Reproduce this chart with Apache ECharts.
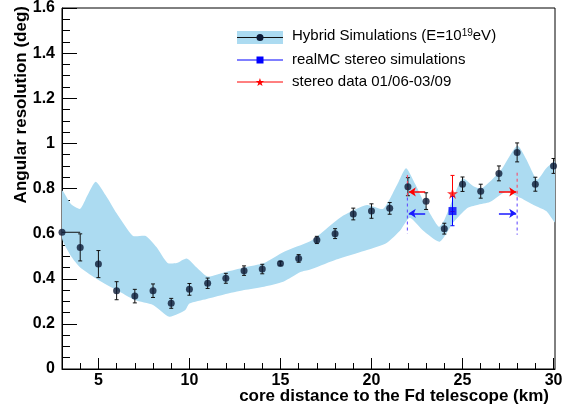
<!DOCTYPE html>
<html>
<head>
<meta charset="utf-8">
<script src="https://cdn.jsdelivr.net/npm/echarts@6/dist/echarts.min.js"></script>
<style>
  html, body { margin: 0; padding: 0; background: #fff; }
  #chart { width: 575px; height: 407px; }
</style>
</head>
<body>
<div id="chart"></div>
<script>
// hybrid simulation points (core distance km, resolution deg, error)
var hybX = [3, 4, 5, 6, 7, 8, 9, 10, 11, 12, 13, 14, 15, 16, 17, 18, 19, 20, 21, 22, 23, 24, 25, 26, 27, 28, 29, 30];
var hybY = [0.606, 0.539, 0.465, 0.347, 0.323, 0.347, 0.291, 0.353, 0.38, 0.402, 0.436, 0.443, 0.468, 0.49,
  0.572, 0.60, 0.687, 0.70, 0.712, 0.808, 0.744, 0.622, 0.819, 0.788, 0.867, 0.96, 0.819, 0.90];
var hybErr = [0, 0.06, 0.06, 0.04, 0.03, 0.03, 0.022, 0.026, 0.023, 0.022, 0.021, 0.021, 0.008, 0.017,
  0.016, 0.022, 0.026, 0.032, 0.026, 0.04, 0.037, 0.024, 0.032, 0.031, 0.033, 0.042, 0.031, 0.033];
var firstXErr = [3, 4];

// spread band of the hybrid simulations
var bandUpX = [3.0, 3.5, 4.0, 4.4, 4.85, 5.4, 6.0, 6.9, 7.6, 8.2, 8.8, 9.3, 9.85, 10.4, 11.0, 12.0, 13.0, 14.1,
  15.2, 16.6, 17.2, 18.45, 19.75, 20.65, 21.4, 21.9, 22.4, 23.0, 23.7, 24.0, 24.5, 25.0, 25.6, 26.05, 27.1,
  28.0, 28.5, 29.1, 29.6, 30.1];
var bandUpY = [0.79, 0.73, 0.71, 0.77, 0.83, 0.77, 0.69, 0.59, 0.59, 0.54, 0.47, 0.47, 0.49, 0.45, 0.41, 0.43,
  0.45, 0.47, 0.52, 0.565, 0.60, 0.68, 0.727, 0.71, 0.815, 0.89, 0.82, 0.72, 0.63, 0.66, 0.76, 0.845, 0.81,
  0.80, 0.88, 0.99, 0.93, 0.84, 0.89, 0.92];
var bandLoX = [3.0, 3.5, 4.0, 5.0, 6.0, 7.0, 8.0, 8.9, 9.76, 10.0, 10.95, 11.9, 13.0, 14.1, 15.15, 16.1, 16.6,
  17.9, 19.75, 20.85, 21.6, 22.1, 22.8, 23.75, 24.5, 25.25, 25.8, 26.5, 27.4, 28.2, 28.9, 29.6, 30.1];
var bandLoY = [0.58, 0.50, 0.45, 0.395, 0.35, 0.306, 0.284, 0.232, 0.26, 0.29, 0.31, 0.33, 0.35, 0.365, 0.387,
  0.43, 0.44, 0.48, 0.527, 0.56, 0.616, 0.67, 0.616, 0.564, 0.65, 0.713, 0.727, 0.74, 0.786, 0.758, 0.727,
  0.70, 0.65];

// realMC stereo and stereo data
var mcPoint = [24.45, 0.70, 0.065];
var dataPoint = [24.45, 0.778, 0.08];

// arrows and dashed markers
var redArrows = [[[22.95, 0.785], [22.05, 0.785]], [[27.0, 0.785], [27.95, 0.785]]];
var blueArrows = [[[22.95, 0.69], [22.05, 0.69]], [[27.0, 0.69], [27.95, 0.69]]];
// x, top, bottom
var redDash = [[21.97, 0.86, 0.76], [28.0, 0.87, 0.76]];
var blueDash = [[21.97, 0.76, 0.60], [28.0, 0.76, 0.595]];

var xLabels = [5, 10, 15, 20, 25, 30];
var xMinor = [4, 6, 7, 8, 9, 11, 12, 13, 14, 16, 17, 18, 19, 21, 22, 23, 24, 26, 27, 28, 29];

var bandColor = '#acdbf1';
var dotColor = '#0c1a36';
var font = 'Liberation Sans, Arial, sans-serif';

var chart = echarts.init(document.getElementById('chart'));

function errBar(color) {
  return function (params, api) {
    var x = api.value(0), y = api.value(1), e = api.value(2);
    if (!e) return null;
    var a = api.coord([x, y + e]), b = api.coord([x, y - e]);
    var st = { stroke: color, lineWidth: 1 };
    return {
      type: 'group',
      children: [
        { type: 'line', shape: { x1: a[0], y1: a[1], x2: b[0], y2: b[1] }, style: st },
        { type: 'line', shape: { x1: a[0] - 2, y1: a[1], x2: a[0] + 2, y2: a[1] }, style: st },
        { type: 'line', shape: { x1: b[0] - 2, y1: b[1], x2: b[0] + 2, y2: b[1] }, style: st }
      ]
    };
  };
}

function dashLine(color) {
  return function (params, api) {
    var a = api.coord([api.value(0), api.value(1)]), b = api.coord([api.value(0), api.value(2)]);
    return { type: 'line', shape: { x1: a[0], y1: a[1], x2: b[0], y2: b[1] },
      style: { stroke: color, lineWidth: 1, lineDash: [3, 3] } };
  };
}

var hybData = hybX.map(function (x, i) { return [x, hybY[i], hybErr[i]]; });

var option = {
  animation: false,
  grid: { left: 62, right: 20, top: 8, bottom: 38, show: true, borderColor: '#000', borderWidth: 1, backgroundColor: 'transparent' },
  xAxis: [{
    type: 'value', min: 3, max: 30.08,
    axisLine: { lineStyle: { color: '#000' } },
    axisTick: { inside: true, length: 11, customValues: xLabels, lineStyle: { color: '#000' } },
    axisLabel: { customValues: xLabels, color: '#000', fontFamily: font, fontWeight: 'bold', fontSize: 16, margin: 4 },
    splitLine: { show: false }
  }, {
    type: 'value', min: 3, max: 30.08, position: 'bottom',
    axisLine: { show: false },
    axisTick: { inside: true, length: 6, customValues: xMinor, lineStyle: { color: '#000' } },
    axisLabel: { show: false },
    splitLine: { show: false }
  }],
  yAxis: {
    type: 'value', min: 0, max: 1.6, interval: 0.2,
    axisLine: { lineStyle: { color: '#000' } },
    axisTick: { inside: true, length: 15, lineStyle: { color: '#000' } },
    minorTick: { show: true, splitNumber: 4, length: 8, lineStyle: { color: '#000' } },
    axisLabel: { color: '#000', fontFamily: font, fontWeight: 'bold', fontSize: 16, margin: 7 },
    splitLine: { show: false }
  },
  series: [{
    // band polygon
    type: 'custom', clip: true, data: [[3, 0]], z: 1,
    renderItem: function (params, api) {
      var pts = [];
      bandUpX.forEach(function (x, i) { pts.push(api.coord([x, bandUpY[i]])); });
      for (var i = bandLoX.length - 1; i >= 0; i--) pts.push(api.coord([bandLoX[i], bandLoY[i]]));
      return { type: 'polygon', shape: { points: pts, smooth: 0.2 }, style: { fill: bandColor } };
    }
  }, {
    type: 'custom', clip: true, data: hybData, z: 3, renderItem: errBar('#111')
  }, {
    type: 'line', data: firstXErr.map(function (x) { return [x, hybY[0]]; }), symbol: 'none',
    lineStyle: { color: '#111', width: 1 }, z: 3
  }, {
    type: 'scatter', data: hybData, symbol: 'circle', symbolSize: 7, itemStyle: { color: dotColor }, z: 4
  }, {
    type: 'custom', data: redDash, z: 3, renderItem: dashLine('#ff4060')
  }, {
    type: 'custom', data: blueDash, z: 3, renderItem: dashLine('#5a40ff')
  }, {
    type: 'lines', coordinateSystem: 'cartesian2d', z: 4, symbol: ['none', 'arrow'], symbolSize: 7,
    data: redArrows.map(function (c) { return { coords: c }; }),
    lineStyle: { color: '#ff0000', width: 1.5, opacity: 1 }
  }, {
    type: 'lines', coordinateSystem: 'cartesian2d', z: 4, symbol: ['none', 'arrow'], symbolSize: 7,
    data: blueArrows.map(function (c) { return { coords: c }; }),
    lineStyle: { color: '#1a1aff', width: 1.5, opacity: 1 }
  }, {
    type: 'custom', data: [dataPoint], z: 4, renderItem: errBar('#ff0000')
  }, {
    type: 'custom', data: [mcPoint], z: 5, renderItem: errBar('#0000ff')
  }, {
    type: 'scatter', data: [mcPoint], symbol: 'rect', symbolSize: 8, itemStyle: { color: '#0000ff' }, z: 6
  }, {
    type: 'scatter', data: [dataPoint], symbol: 'path://M0,-1L0.2245,-0.309L0.951,-0.309L0.363,0.118L0.588,0.809L0,0.382L-0.588,0.809L-0.363,0.118L-0.951,-0.309L-0.2245,-0.309Z',
    symbolSize: 11, itemStyle: { color: '#ff0000' }, z: 6
  }],
  graphic: [
    // legend
    { type: 'rect', shape: { x: 237, y: 31, width: 46, height: 13 }, style: { fill: bandColor } },
    { type: 'line', shape: { x1: 237, y1: 37.5, x2: 283, y2: 37.5 }, style: { stroke: '#111', lineWidth: 1 } },
    { type: 'circle', shape: { cx: 260, cy: 37.5, r: 3.5 }, style: { fill: dotColor } },
    { type: 'text', left: 292, top: 28, style: {
      text: 'Hybrid Simulations (E=10{sup|19}eV)', font: '15px ' + font, fill: '#000',
      rich: { sup: { fontSize: 10, fontFamily: font, verticalAlign: 'top', fill: '#000' } } } },
    { type: 'line', shape: { x1: 237, y1: 60, x2: 283, y2: 60 }, style: { stroke: '#0000ff', lineWidth: 1 } },
    { type: 'rect', shape: { x: 256.5, y: 56.5, width: 7, height: 7 }, style: { fill: '#0000ff' } },
    { type: 'text', left: 292, top: 52, style: { text: 'realMC stereo simulations', font: '15px ' + font, fill: '#000' } },
    { type: 'line', shape: { x1: 237, y1: 82, x2: 283, y2: 82 }, style: { stroke: '#ff0000', lineWidth: 1 } },
    { type: 'text', x: 260, y: 83, style: { text: '\u2605', font: '11px DejaVu Sans', fill: '#ff0000', align: 'center', verticalAlign: 'middle' } },
    { type: 'text', left: 292, top: 74, style: { text: 'stereo data 01/06-03/09', font: '15px ' + font, fill: '#000' } },
    // axis titles
    { type: 'text', x: 21, y: 6, rotation: Math.PI / 2, style: {
      text: 'Angular resolution (deg)', font: 'bold 17px ' + font, fill: '#000', align: 'right', verticalAlign: 'middle' } },
    { type: 'text', x: 549, y: 396, style: {
      text: 'core distance to the Fd telescope (km)', font: 'bold 17px ' + font, fill: '#000', align: 'right', verticalAlign: 'middle' } }
  ]
};

chart.setOption(option);
</script>
</body>
</html>
